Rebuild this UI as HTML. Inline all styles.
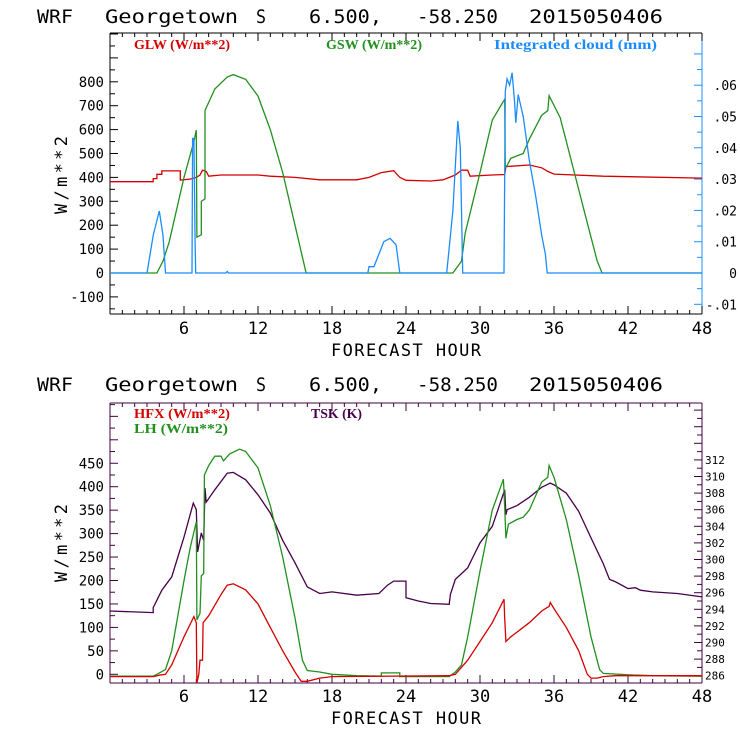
<!DOCTYPE html>
<html><head><meta charset="utf-8"><style>
body{margin:0;background:#fff}
svg{display:block}
text{font-family:"DejaVu Sans Mono","Liberation Mono",monospace}
.leg{font-family:"Liberation Serif",serif;font-weight:bold;font-size:14px}
</style></head><body>
<svg id="chart" width="740" height="740" viewBox="0 0 740 740" xmlns="http://www.w3.org/2000/svg">
<rect width="740" height="740" fill="#fff"/>
</svg>
<script>
// ---------- Top panel data ----------
const glwHours = [0,3.5,3.5,3.8,3.8,4.2,4.2,5.7,5.7,6.5,7,7.3,7.5,7.8,8,9,12,13,15,17,20,21,22,23,23.5,24,26,27,28,28.5,29,29.2,31,32,32.1,34,35,35.5,36,40,48];
const glwValues = [382,382,395,395,413,413,427,427,389,393,400,410,430,425,405,410,410,405,400,390,390,400,420,428,400,388,385,390,410,430,430,405,410,412,445,452,440,425,414,405,397];
const gswHours = [0,3.8,4.3,4.8,6,6.8,7.0,7.05,7.4,7.4,7.7,7.7,8.5,9.5,10,11,12,13,14,15,15.9,27.8,28.5,28.8,30,31,32.0,32.05,32.2,32.5,33,33.5,34,34.5,35,35.5,35.6,36.5,37.5,38.5,39.5,39.9,48];
const gswValues = [0,0,50,130,400,550,598,150,160,300,310,680,770,820,830,810,740,600,420,200,0,0,50,167,420,640,727,440,450,480,490,500,560,610,660,680,742,650,450,250,50,0,0];
const cloudHours = [0,3.0,3.5,4.0,4.3,4.5,6.65,6.7,6.8,6.9,6.95,9.4,9.5,9.6,20.9,21,21.4,21.8,22.2,22.7,23.2,23.5,27.3,27.8,28.2,28.4,28.6,31.95,32.05,32.2,32.4,32.6,32.8,32.9,33.1,33.5,34,34.5,35,35.3,35.45,48];
const cloudValues = [0,0,0.012,0.0198,0.012,0,0,0.043,0.043,0.01,0,0,0.0005,0,0,0.002,0.002,0.006,0.01,0.0111,0.009,0,0,0.02,0.0486,0.04,0,0,0.058,0.062,0.06,0.064,0.055,0.048,0.057,0.050,0.036,0.025,0.012,0.006,0,0];
const topLeftTicks = ["-100","0","100","200","300","400","500","600","700","800"];
const topRightTicks = ["-.01","0",".01",".02",".03",".04",".05",".06"];
const xTickLabels = ["6","12","18","24","30","36","42","48"];
// ---------- Bottom panel data ----------
const tskHours = [0,3.5,3.5,3.8,4.2,5,6,6.75,7.0,7.1,7.4,7.6,7.7,7.8,8.5,9.5,10,11,12,13,14,15,16,17,18,20,21.8,22.5,23,24,24,25,26,27.5,27.6,28,29,29.5,30,31,32,32.1,32.2,33,34,35,35.7,36,37,38,39,40,40.5,41,42,42.6,43,44,46,48];
const tskValues = [293.8,293.6,294.2,295.1,296.3,297.9,302.7,306.8,306.0,300.9,303.2,302.3,308.6,306.9,308.4,310.4,310.5,309.6,307.8,305.6,302.3,299.6,296.7,295.9,296.1,295.7,295.9,296.9,297.4,297.4,295.4,295.0,294.7,294.6,295.8,297.6,299.0,300.5,302,304,308.4,305.4,306,306.5,307.5,308.7,309.2,309,308.0,305.8,302.6,299.5,297.6,297.3,296.5,296.6,296.3,296.1,295.9,295.5];
const lhHours = [0,3.5,3.8,4.5,5,6,6.5,7.0,7.05,7.3,7.4,7.6,7.65,8,8.5,9,9.2,9.7,10.5,11,12,13,14,15,15.6,16,17,18,20,22,22,23.5,23.5,27.5,28,28.5,29,30,31,31.9,32.0,32.1,32.3,33,33.5,34,34.5,35,35.5,35.6,36,37,38,39,39.7,40,42,44,48];
const lhValues = [-4,-4,0,10,50,200,270,325,116,130,210,215,425,445,465,465,455,470,480,475,440,360,250,120,30,8,5,0,-3,-4,3,3,-5,-5,5,20,80,220,350,416,357,290,320,330,335,350,380,410,420,445,420,330,210,80,10,2,-1,-3,-4];
const hfxHours = [0,3.5,4,4.5,5,6,6.8,7.0,7.05,7.2,7.3,7.5,7.55,8,9,9.5,10,11,12,13,14,15,15.5,16,17,18,27.5,28,29,30,31,31.95,32.0,32.1,32.5,33,34,35,35.6,35.7,36,37,38,38.7,39,39.5,40,41,48];
const hfxValues = [-5,-5,-2,0,20,80,123,110,-18,0,30,30,110,125,170,190,193,180,150,100,50,5,-15,-15,-8,-5,-3,0,30,70,110,160,119,70,80,90,110,135,145,153,140,100,50,0,-8,-8,-5,-3,-3];
const botLeftTicks = ["0","50","100","150","200","250","300","350","400","450"];
const botRightTicks = ["286","288","290","292","294","296","298","300","302","304","306","308","310","312"];

const NS="http://www.w3.org/2000/svg";
const svg=document.getElementById('chart');
function el(tag,attrs,parent){const e=document.createElementNS(NS,tag);for(const k in attrs)e.setAttribute(k,attrs[k]);(parent||svg).appendChild(e);return e;}
const X0=110,X1=702;
function xs(h){return X0+h*(X1-X0)/48;}
const tY=v=>273-v*0.239;
const tYR=v=>273-v*3130;
const bY=v=>674.3-v*0.469;
const bYR=v=>675.7-(v-286)*8.3;

function line(x1,y1,x2,y2,c,name){const l=el('line',{x1,y1,x2,y2,stroke:c,'stroke-width':1});

return l;}
function txt(x,y,s,opts,name){const t=el('text',Object.assign({x,y},opts));t.textContent=s;

return t;}
function series(hours,vals,xf,yf,color,name,clipTop,clipBot){
  const pts=hours.map((h,i)=>{let y=yf(vals[i]);if(y>clipBot)y=clipBot;return xs(h).toFixed(1)+','+y.toFixed(1);}).join(' ');
  const p=el('polyline',{points:pts,fill:'none',stroke:color,'stroke-width':1.3,'stroke-linejoin':'miter'});
  
  
}
function title(y,name){
  const parts=[["WRF",37,36],["Georgetown",105,133],["S",256,10],["6.500,",309,73],["-58.250",417,81],["2015050406",529,134]];
  parts.forEach(p=>txt(p[1],y,p[0],{'font-size':19,textLength:p[2],lengthAdjust:'spacingAndGlyphs',fill:'#000'},name+'-part'));
}
function xaxis(top,bot,color,labY,fhY,pre){
  for(let h=0;h<=48;h++){const major=h%6===0;const L=major?8:4;
    line(xs(h),bot,xs(h),bot-L,color,pre+'-x-tick');line(xs(h),top,xs(h),top+L,color,pre+'-x-tick-top');}
  xTickLabels.forEach((s,i)=>txt(xs(+s),labY,s,{'font-size':17,'text-anchor':'middle',fill:'#000'},pre+'-x-tick-label'));
  txt(406,fhY,"FORECAST HOUR",{'font-size':17,'text-anchor':'middle',textLength:150,lengthAdjust:'spacing',fill:'#000'},pre+'-x-axis-title');
}
// ---- TOP PANEL ----
title(23,'top-title');
const TT=33,TB=314;
line(X0,TT,X1,TT,'#000','top-frame-top');line(X0,TB,X1,TB,'#000','top-frame-bottom');
line(X0,TT,X0,TB,'#000','top-left-axis');line(X1,TT,X1,TB,'#1e90ff','top-right-axis');
xaxis(TT,TB,'#000',334,356,'top');
for(let v=-150;v<=1000;v+=50){const y=tY(v);if(y<TT+1||y>TB)continue;line(X0,y,X0+(v%100===0?8:5),y,'#000','top-left-tick');}
topLeftTicks.forEach(s=>txt(104,tY(+s)+5,s,{'font-size':14,'text-anchor':'end',fill:'#000'},'top-left-tick-label'));
for(let k=-3;k<=14;k++){const v=k*0.005;const y=tYR(v);if(y<TT+1||y>TB)continue;line(X1,y,X1-(k%2===0?8:5),y,'#1e90ff','top-right-tick');}
topRightTicks.forEach(s=>txt(737,tYR(parseFloat(s.replace('.','0.')))+5,s,{'font-size':13,'text-anchor':'end',fill:'#000'},'top-right-tick-label'));
txt(0,0,"W/m**2",{'font-size':17,transform:'translate(67,175) rotate(-90)','text-anchor':'middle',textLength:78,lengthAdjust:'spacing',fill:'#000'},'top-y-axis-title');
series(glwHours,glwValues,xs,tY,'#d40000','glw-line',TT,TB);
series(gswHours,gswValues,xs,tY,'#22901e','gsw-line',TT,TB);
series(cloudHours,cloudValues,xs,tYR,'#1a8cff','cloud-line',TT,TB);
txt(134,49,"GLW (W/m**2)",{class:'leg',fill:'#d40000',textLength:96,lengthAdjust:'spacingAndGlyphs'},'legend-glw');
txt(326,49,"GSW (W/m**2)",{class:'leg',fill:'#22901e',textLength:96,lengthAdjust:'spacingAndGlyphs'},'legend-gsw');
txt(494,49,"Integrated cloud (mm)",{class:'leg',fill:'#1a8cff',textLength:163,lengthAdjust:'spacingAndGlyphs'},'legend-cloud');
// ---- BOTTOM PANEL ----
title(391,'bottom-title');
const BT=403,BB=683;const pc='#400040';
line(X0,BT,X1,BT,pc,'bottom-frame-top');line(X0,BB,X1,BB,pc,'bottom-frame-bottom');
line(X0,BT,X0,BB,pc,'bottom-left-axis');line(X1,BT,X1,BB,pc,'bottom-right-axis');
xaxis(BT,BB,pc,702,724,'bottom');
for(let v=-25;v<=600;v+=25){const y=bY(v);if(y<BT+1||y>BB)continue;line(X0,y,X0+(v%50===0?8:5),y,pc,'bottom-left-tick');}
botLeftTicks.forEach(s=>txt(104,bY(+s)+5,s,{'font-size':14,'text-anchor':'end',fill:'#000'},'bottom-left-tick-label'));
for(let v=285;v<=319;v++){const y=bYR(v);if(y<BT+1||y>BB)continue;line(X1,y,X1-(v%2===0?8:5),y,pc,'bottom-right-tick');}
botRightTicks.forEach(s=>txt(705,bYR(+s)+4,s,{'font-size':11,fill:'#000'},'bottom-right-tick-label'));
txt(0,0,"W/m**2",{'font-size':17,transform:'translate(67,543) rotate(-90)','text-anchor':'middle',textLength:78,lengthAdjust:'spacing',fill:'#000'},'bottom-y-axis-title');
series(tskHours,tskValues,xs,bYR,'#46004a','tsk-line',BT,BB);
series(lhHours,lhValues,xs,bY,'#22901e','lh-line',BT,BB);
series(hfxHours,hfxValues,xs,bY,'#d40000','hfx-line',BT,BB);
txt(134,418,"HFX (W/m**2)",{class:'leg',fill:'#d40000',textLength:96,lengthAdjust:'spacingAndGlyphs'},'legend-hfx');
txt(134,433,"LH  (W/m**2)",{class:'leg',fill:'#22901e','xml:space':'preserve',textLength:94,lengthAdjust:'spacingAndGlyphs'},'legend-lh');
txt(311,418,"TSK (K)",{class:'leg',fill:'#46004a',textLength:51,lengthAdjust:'spacingAndGlyphs'},'legend-tsk');
</script>
</body></html>
